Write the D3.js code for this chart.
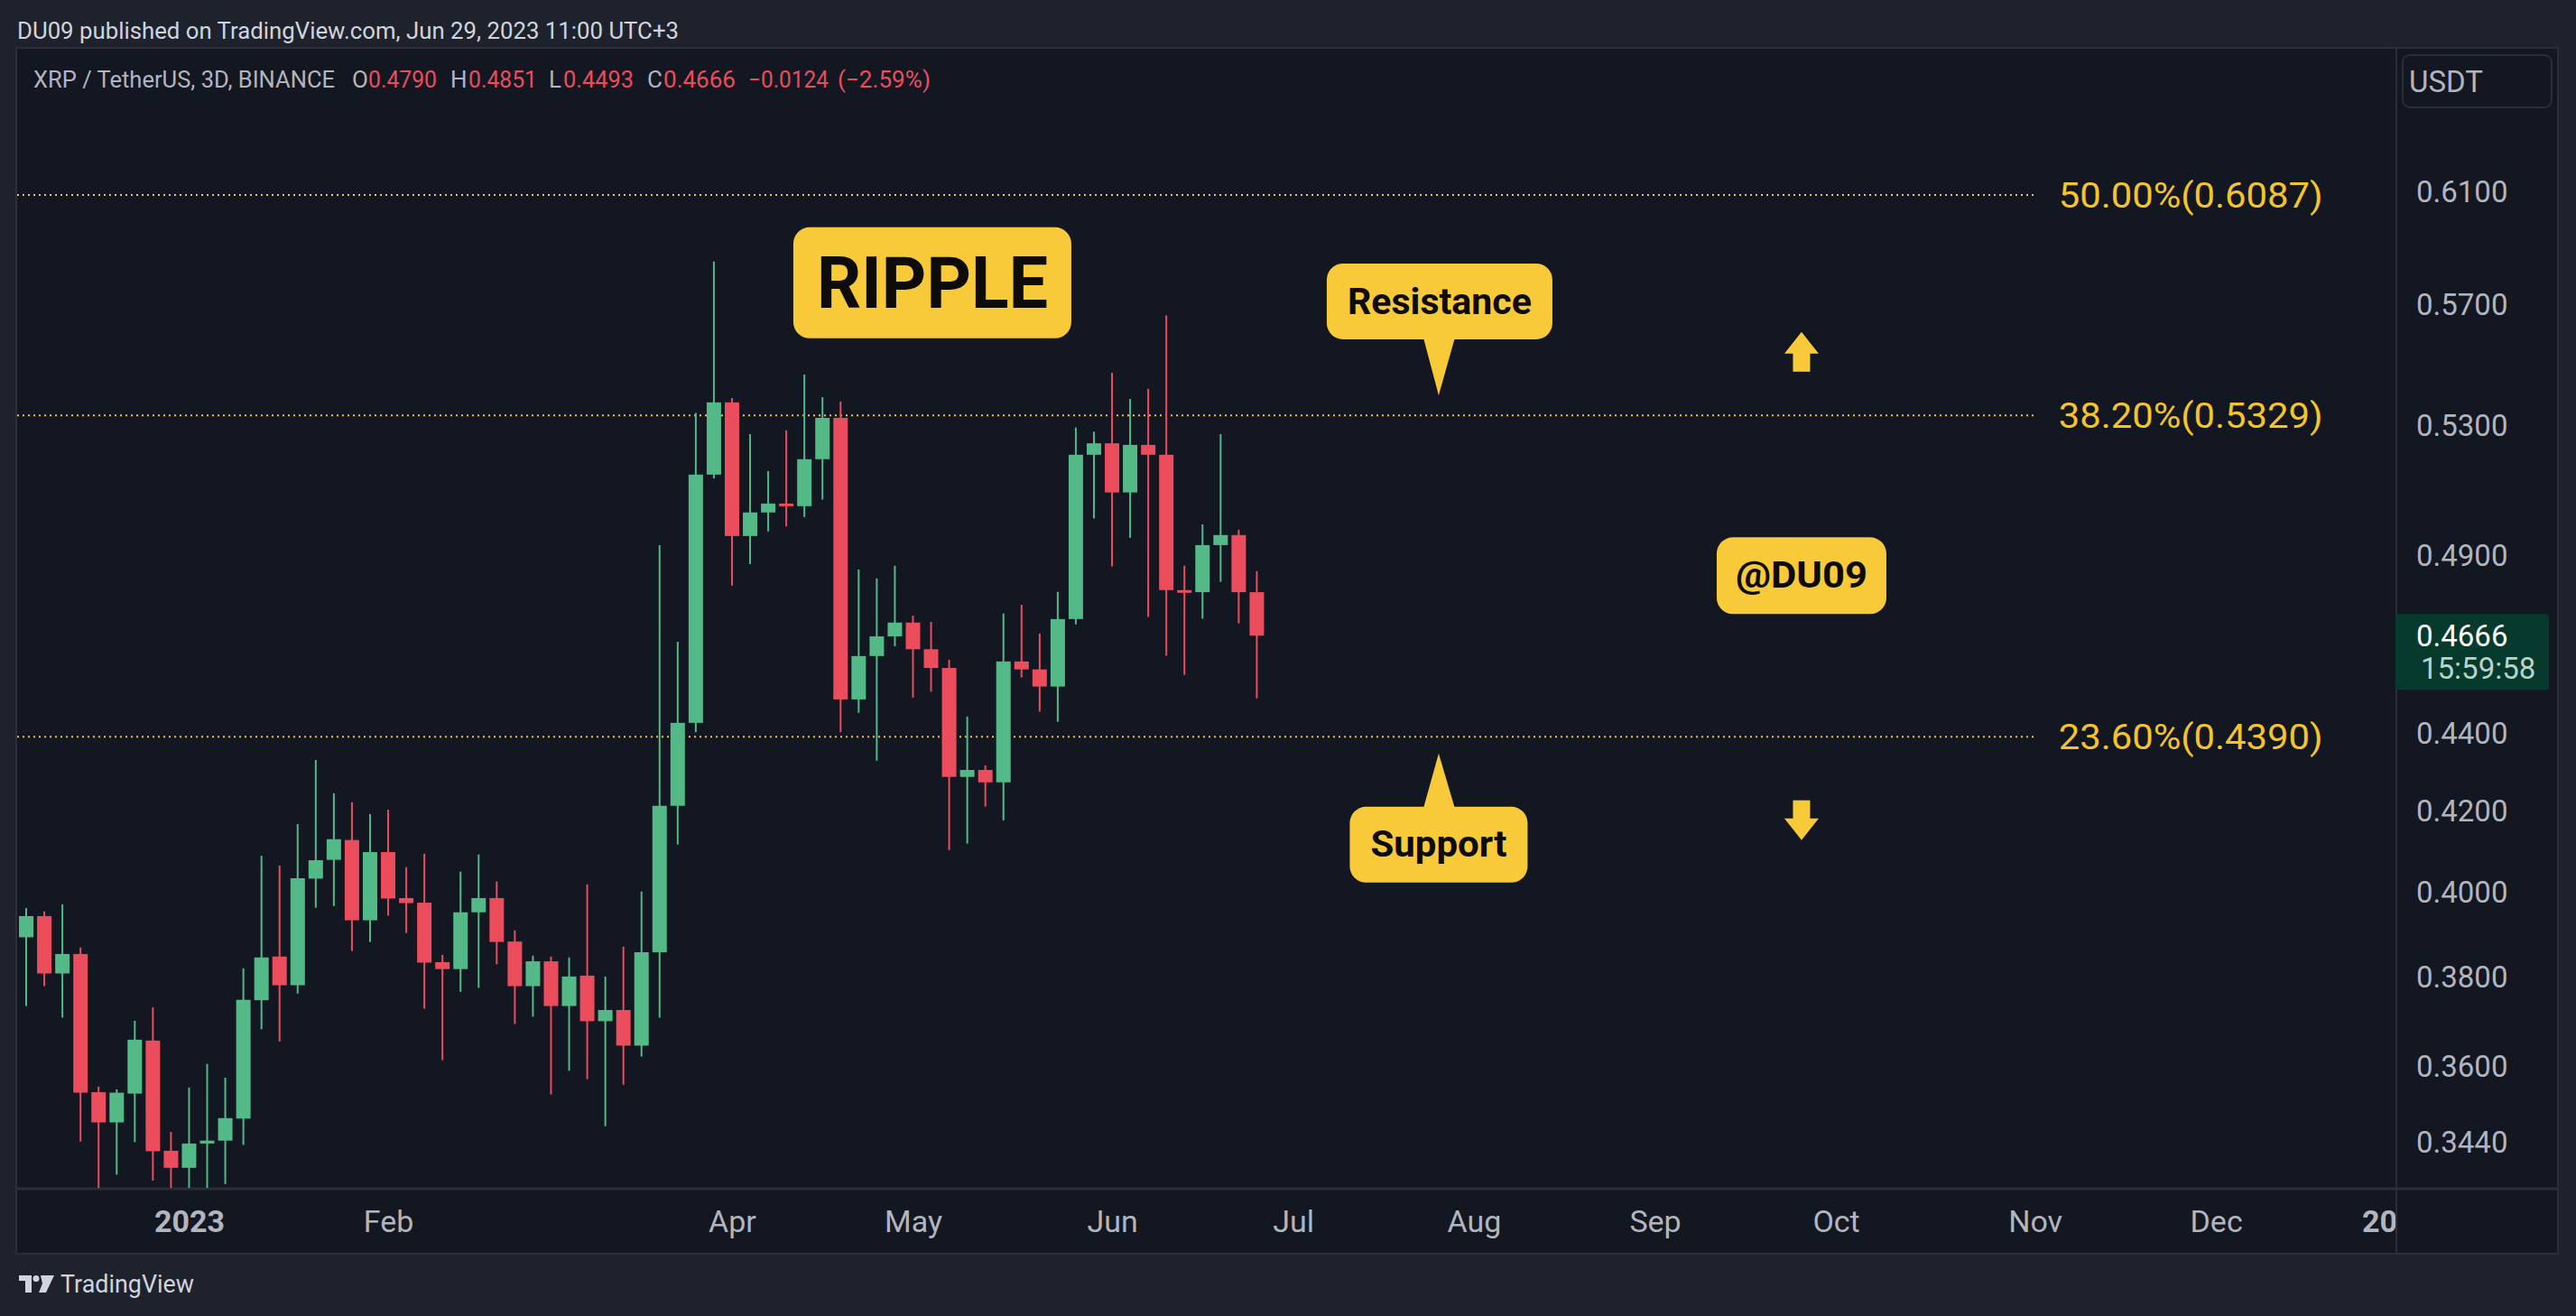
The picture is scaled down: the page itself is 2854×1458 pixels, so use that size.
<!DOCTYPE html>
<html>
<head>
<meta charset="utf-8">
<title>XRP / TetherUS 3D</title>
<script src="https://cdn.jsdelivr.net/npm/d3@7"></script>
<style>
  html, body { margin: 0; padding: 0; background: #1e222d; }
  svg { display: block; }
  text { font-family: Roboto, "Noto Sans", sans-serif; }
</style>
</head>
<body>
<div id="chart"></div>
<script>
// 3D candles, first bar opens 2022-12-02, one bar every 3 days
var opens  = [0.3890,0.3940,0.3806,0.3851,0.3543,0.3479,0.3540,0.3655,0.3420,0.3385,
              0.3435,0.3441,0.3487,0.3745,0.3845,0.3779,0.4030,0.4076,0.4125,0.3930,
              0.4095,0.3983,0.3972,0.3832,0.3816,0.3949,0.3983,0.3880,0.3777,0.3834,
              0.3732,0.3801,0.3698,0.3723,0.3644,0.3855,0.4211,0.4427,0.5142,0.5371,
              0.4955,0.5026,0.5053,0.5045,0.5190,0.5321,0.4490,0.4609,0.4664,0.4703,
              0.4628,0.4576,0.4285,0.4303,0.4271,0.4594,0.4572,0.4525,0.4713,0.5204,
              0.5240,0.5087,0.5235,0.5204,0.4796,0.4790,0.4928,0.4958,0.4790];
var highs  = [0.3959,0.3951,0.3968,0.3866,0.3555,0.3549,0.3699,0.3729,0.3459,0.3553,
              0.3604,0.3574,0.3818,0.4086,0.4062,0.4165,0.4329,0.4243,0.4220,0.4190,
              0.4201,0.4058,0.4091,0.3849,0.4047,0.4089,0.4023,0.3906,0.3847,0.3845,
              0.3843,0.4016,0.3799,0.3868,0.3999,0.4928,0.4649,0.5337,0.5847,0.5385,
              0.5269,0.5153,0.5281,0.5462,0.5388,0.5373,0.4856,0.4830,0.4867,0.4723,
              0.4705,0.4599,0.4444,0.4315,0.4729,0.4754,0.4672,0.4791,0.5290,0.5277,
              0.5468,0.5382,0.5415,0.5660,0.4867,0.4990,0.5269,0.4974,0.4851];
var lows   = [0.3732,0.3777,0.3706,0.3439,0.3330,0.3371,0.3438,0.3359,0.3330,0.3330,
              0.3335,0.3352,0.3432,0.3680,0.3653,0.3760,0.3960,0.3964,0.3858,0.3879,
              0.3941,0.3900,0.3726,0.3612,0.3764,0.3773,0.3827,0.3692,0.3708,0.3538,
              0.3589,0.3571,0.3471,0.3559,0.3620,0.3706,0.4114,0.4402,0.5130,0.4809,
              0.4872,0.4969,0.4984,0.5012,0.5065,0.4402,0.4454,0.4327,0.4636,0.4495,
              0.4511,0.4100,0.4116,0.4209,0.4174,0.4550,0.4457,0.4430,0.4698,0.5008,
              0.4865,0.4950,0.4719,0.4610,0.4557,0.4714,0.4820,0.4701,0.4493];
var closes = [0.3940,0.3806,0.3851,0.3542,0.3479,0.3542,0.3657,0.3419,0.3385,0.3435,
              0.3441,0.3488,0.3746,0.3843,0.3779,0.4031,0.4075,0.4127,0.3930,0.4095,
              0.3982,0.3971,0.3831,0.3816,0.3949,0.3983,0.3879,0.3777,0.3834,0.3732,
              0.3799,0.3698,0.3723,0.3644,0.3855,0.4211,0.4427,0.5142,0.5371,0.4955,
              0.5026,0.5053,0.5045,0.5190,0.5321,0.4490,0.4609,0.4664,0.4703,0.4628,
              0.4576,0.4285,0.4303,0.4271,0.4594,0.4572,0.4525,0.4713,0.5204,0.5240,
              0.5087,0.5235,0.5204,0.4796,0.4790,0.4928,0.4958,0.4790,0.4666];

var yTicks = [0.61, 0.57, 0.53, 0.49, 0.44, 0.42, 0.40, 0.38, 0.36, 0.344];
var xTickLabels = ["2023", "Feb", "Apr", "May", "Jun", "Jul", "Aug", "Sep", "Oct", "Nov", "Dec", "2024"];
var xTickBars = [9, 20, 39, 49, 60, 70, 80, 90, 100, 111, 121, 131];
var fibPrices = [0.6087, 0.5329, 0.4390];
var fibNames = ["50.00%", "38.20%", "23.60%"];

function init() {
    var w = 2854, h = 1458;
    var plot = { left: 19, top: 54, right: 2654, bottom: 1316 };
    var yellow = "#f8ca3a", fibColor = "#f3c42c";
    var up = "#53b987", down = "#eb4d5c";

    var x = d3.scaleLinear().domain([-0.5, 130.92]).range([plot.left, plot.right]);
    var y = d3.scaleLog().domain([0.33444, 0.66479]).range([plot.bottom, plot.top]);

    var svg = d3.select("#chart").append("svg")
        .attr("width", w).attr("height", h);

    svg.append("rect").attr("width", w).attr("height", h).attr("fill", "#1e222d");

    // chart frame
    svg.append("rect")
        .attr("x", 18).attr("y", 53).attr("width", 2816).attr("height", 1336)
        .attr("fill", "#131722").attr("stroke", "#2a2e39").attr("stroke-width", 2);
    svg.append("line").attr("x1", 18).attr("x2", 2834).attr("y1", 1317).attr("y2", 1317)
        .attr("stroke", "#2a2e39").attr("stroke-width", 3);
    svg.append("line").attr("x1", 2655).attr("x2", 2655).attr("y1", 53).attr("y2", 1389)
        .attr("stroke", "#2a2e39").attr("stroke-width", 2);

    var defs = svg.append("defs");
    defs.append("clipPath").attr("id", "plotClip").append("rect")
        .attr("x", plot.left).attr("y", plot.top)
        .attr("width", plot.right - plot.left).attr("height", plot.bottom - plot.top);

    // header
    svg.append("text").attr("x", 19).attr("y", 43).attr("font-size", 26)
        .attr("fill", "#d1d4dc").attr("textLength", 733).attr("lengthAdjust", "spacingAndGlyphs")
        .text("DU09 published on TradingView.com, Jun 29, 2023 11:00 UTC+3");

    var last = opens.length - 1;
    var chg = closes[last] - closes[last - 1];
    var pct = chg / closes[last - 1] * 100;
    var legend = [
        { t: "XRP / TetherUS, 3D, BINANCE", x: 37, w: 334, c: "#b2b5be" },
        { t: "O", x: 390, c: "#b2b5be" },
        { t: opens[last].toFixed(4), x: 408, w: 76, c: down },
        { t: "H", x: 499, c: "#b2b5be" },
        { t: highs[last].toFixed(4), x: 519, w: 76, c: down },
        { t: "L", x: 608, c: "#b2b5be" },
        { t: lows[last].toFixed(4), x: 624, w: 78, c: down },
        { t: "C", x: 717, c: "#b2b5be" },
        { t: closes[last].toFixed(4), x: 735, w: 80, c: down },
        { t: "\u2212" + Math.abs(chg).toFixed(4), x: 829, w: 89, c: down },
        { t: "(\u2212" + Math.abs(pct).toFixed(2) + "%)", x: 928, w: 103, c: down }
    ];
    svg.append("g").selectAll("text").data(legend).enter().append("text")
        .attr("x", d => d.x).attr("y", 97).attr("font-size", 26)
        .attr("fill", d => d.c)
        .attr("textLength", d => d.w ? d.w : null)
        .attr("lengthAdjust", "spacingAndGlyphs")
        .text(d => d.t);

    // fib levels
    var fib = svg.append("g");
    fib.selectAll("line").data(fibPrices).enter().append("line")
        .attr("x1", plot.left).attr("x2", x(111))
        .attr("y1", d => y(d)).attr("y2", d => y(d))
        .attr("stroke", fibColor).attr("stroke-width", 2).attr("stroke-dasharray", "2 4");
    fib.selectAll("text").data(fibPrices).enter().append("text")
        .attr("x", x(112.3)).attr("y", d => y(d)).attr("dy", "0.36em")
        .attr("font-size", 39).attr("fill", fibColor)
        .attr("textLength", 293).attr("lengthAdjust", "spacingAndGlyphs")
        .text((d, i) => fibNames[i] + "(" + d.toFixed(4) + ")");

    // candles
    var candles = svg.append("g").attr("clip-path", "url(#plotClip)")
        .selectAll("g").data(opens).enter().append("g")
        .attr("fill", (d, i) => closes[i] >= opens[i] ? up : down)
        .attr("stroke", (d, i) => closes[i] >= opens[i] ? up : down);

    candles.append("line")
        .attr("x1", (d, i) => x(i)).attr("x2", (d, i) => x(i))
        .attr("y1", (d, i) => y(highs[i])).attr("y2", (d, i) => y(lows[i]))
        .attr("stroke-width", 2);

    candles.append("rect")
        .attr("stroke", "none")
        .attr("x", (d, i) => x(i) - 8).attr("width", 16)
        .attr("y", (d, i) => y(Math.max(opens[i], closes[i])))
        .attr("height", (d, i) => Math.max(3, y(Math.min(opens[i], closes[i])) - y(Math.max(opens[i], closes[i]))));

    // y axis
    var yAxis = svg.append("g").attr("transform", "translate(2677,0)")
        .call(d3.axisRight(y).tickValues(yTicks).tickFormat(d3.format(".4f")).tickSize(0).tickPadding(0));
    yAxis.select(".domain").remove();
    yAxis.selectAll("text").attr("font-size", 33).attr("fill", "#b2b5be")
        .attr("font-family", "Roboto, sans-serif").attr("dy", "0.36em");

    svg.append("rect").attr("x", 2662).attr("y", 61).attr("width", 165).attr("height", 58).attr("rx", 8)
        .attr("fill", "none").attr("stroke", "#2a2e39").attr("stroke-width", 2);
    svg.append("text").attr("x", 2669).attr("y", 90).attr("dy", "0.36em")
        .attr("font-size", 33).attr("fill", "#b2b5be").text("USDT");

    // last price label
    var py = y(closes[last]);
    svg.append("rect").attr("x", 2654).attr("y", py - 24).attr("width", 170).attr("height", 84)
        .attr("rx", 3).attr("fill", "#053a2d");
    svg.append("text").attr("x", 2677).attr("y", py).attr("dy", "0.36em")
        .attr("font-size", 33).attr("fill", "#ffffff").text(closes[last].toFixed(4));
    svg.append("text").attr("x", 2682).attr("y", py + 36).attr("dy", "0.36em")
        .attr("font-size", 33).attr("fill", "#b8d3c9").text("15:59:58");

    // x axis
    defs.append("clipPath").attr("id", "xClip").append("rect")
        .attr("x", plot.left).attr("y", 1318).attr("width", plot.right - plot.left).attr("height", 70);
    var xAxis = svg.append("g").attr("clip-path", "url(#xClip)")
        .append("g").attr("transform", "translate(0,1353)")
        .call(d3.axisBottom(x).tickValues(xTickBars).tickFormat((d, i) => xTickLabels[i]).tickSize(0).tickPadding(0));
    xAxis.select(".domain").remove();
    xAxis.selectAll("text").attr("font-size", 34).attr("fill", "#b2b5be")
        .attr("font-family", "Roboto, sans-serif")
        .attr("y", 0).attr("dy", "0.36em")
        .attr("font-weight", (d, i) => /^\d+$/.test(xTickLabels[i]) ? "bold" : "normal");

    // annotations
    var notes = svg.append("g");
    function box(cx, cy, bw, bh, label, size, tl) {
        notes.append("rect").attr("x", cx - bw / 2).attr("y", cy - bh / 2)
            .attr("width", bw).attr("height", bh).attr("rx", 18).attr("fill", yellow);
        notes.append("text").attr("x", cx).attr("y", cy).attr("dy", "0.34em")
            .attr("text-anchor", "middle").attr("font-size", size).attr("font-weight", "bold")
            .attr("fill", "#0e0b0b").attr("textLength", tl).attr("lengthAdjust", "spacingAndGlyphs")
            .text(label);
    }

    box(x(50.07), y(0.57725), 308, 123, "RIPPLE", 80, 256);

    var rt = [x(78.05), y(0.5394)];
    notes.append("polygon").attr("fill", yellow)
        .attr("points", [[rt[0] - 17, rt[1] - 64], [rt[0] + 18, rt[1] - 64], [rt[0], rt[1]]].join(" "));
    box(rt[0] + 1, rt[1] - 104, 250, 84, "Resistance", 40, 204);

    var st = [x(78.05), y(0.4346)];
    notes.append("polygon").attr("fill", yellow)
        .attr("points", [[st[0] - 17, st[1] + 61], [st[0] + 18, st[1] + 61], [st[0], st[1]]].join(" "));
    box(st[0], st[1] + 101, 197, 84, "Support", 40, 151);

    box(x(98.1), y(0.4838), 188, 85, "@DU09", 40, 146);

    var ax = x(98.1);
    var upTip = y(0.5604);
    notes.append("polygon").attr("fill", yellow)
        .attr("points", [[ax, upTip], [ax - 19, upTip + 24], [ax + 19, upTip + 24]].join(" "));
    notes.append("rect").attr("fill", yellow).attr("x", ax - 9.5).attr("y", upTip + 23).attr("width", 19).attr("height", 21);
    var dnTip = y(0.4125);
    notes.append("polygon").attr("fill", yellow)
        .attr("points", [[ax, dnTip], [ax - 19, dnTip - 24], [ax + 19, dnTip - 24]].join(" "));
    notes.append("rect").attr("fill", yellow).attr("x", ax - 9.5).attr("y", dnTip - 44).attr("width", 19).attr("height", 21);

    // footer logo
    var logo = svg.append("g").attr("fill", "#d1d4dc");
    logo.append("rect").attr("x", 21).attr("y", 1413).attr("width", 14).attr("height", 6);
    logo.append("rect").attr("x", 28).attr("y", 1413).attr("width", 7).attr("height", 19);
    logo.append("circle").attr("cx", 40).attr("cy", 1416.5).attr("r", 3.5);
    logo.append("polygon").attr("points", "45,1413 60,1413 51,1432 43,1432 47,1422");
    svg.append("text").attr("x", 67).attr("y", 1432).attr("font-size", 27).attr("fill", "#d1d4dc")
        .attr("textLength", 148).attr("lengthAdjust", "spacingAndGlyphs").text("TradingView");
}

window.onload = init;
</script>
</body>
</html>
